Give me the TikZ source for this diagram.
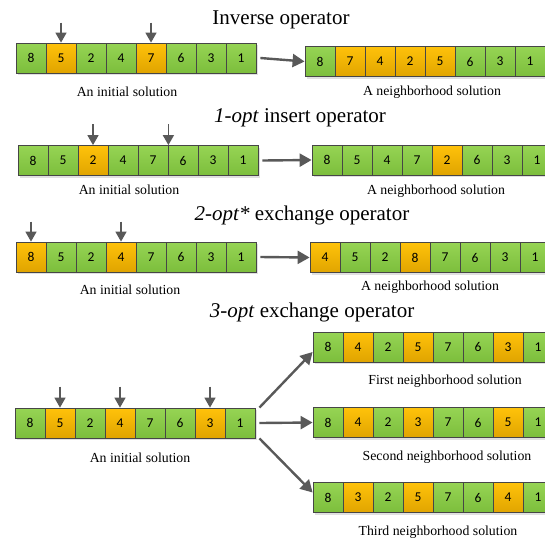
\documentclass[tikz,border=0pt]{standalone}
\usepackage{fontspec}
\setmainfont{Liberation Serif}
\newfontfamily\cellfont{Carlito}
\usetikzlibrary{arrows.meta,shadows}
\definecolor{cgreen}{RGB}{150,212,84}
\definecolor{cgreendk}{RGB}{124,190,60}
\definecolor{corange}{RGB}{255,194,10}
\definecolor{corangedk}{RGB}{224,164,0}
\definecolor{cedge}{RGB}{70,70,70}
\definecolor{carrow}{RGB}{89,89,89}
\tikzset{
    cell/.style={draw=cedge, line width=0.8pt, minimum width=30pt, minimum height=30pt,
        inner sep=0pt, font=\cellfont\fontsize{13.5}{14}\selectfont,
        drop shadow={shadow xshift=2pt, shadow yshift=-2pt, fill=black!20, opacity=0.6}},
    gcell/.style={cell, top color=cgreen, bottom color=cgreendk},
    ocell/.style={cell, top color=corange, bottom color=corangedk},
    caption/.style={font=\fontsize{13.8}{15}\selectfont},
    heading/.style={font=\fontsize{21}{23}\selectfont},
    pick/.style={-{Triangle[length=10pt,width=11pt]}, line width=1.5pt, carrow},
    move/.style={-{Triangle[length=12pt,width=13pt]}, line width=2.4pt, carrow}
}
\begin{document}
\begin{tikzpicture}[x=1pt,y=-1pt]
    \useasboundingbox (0,0) rectangle (545,539);
    % inverse operator
    \node[heading] (t1) at (281,20) {Inverse operator};
    \foreach \v/\s [count=\i] in {8/gcell,5/ocell,2/gcell,4/gcell,7/ocell,6/gcell,3/gcell,1/gcell}{
        \node[\s] (ia\i) at ({16+30*\i-15},58) {\v};
        };
    \foreach \v/\s [count=\i] in {8/gcell,7/ocell,4/ocell,2/ocell,5/ocell,6/gcell,3/gcell,1/gcell}{
        \node[\s] (na\i) at ({305+30*\i-15},61.5) {\v};
        };
    \draw[pick] ([yshift=20pt]ia2.north) -- (ia2.north);
    \draw[pick] ([yshift=20pt]ia5.north) -- (ia5.north);
    \draw[move] ([xshift=4pt]ia8.east) -- (na1.west);
    \node[caption] (ca1) at (127,92) {An initial solution};
    \node[caption] (cn1) at (432,92) {A neighborhood solution};

    % 1-opt insert operator
    \node[heading] (t2) at (300,118) {\textit{1-opt} insert operator};
    \foreach \v/\s [count=\i] in {8/gcell,5/gcell,2/ocell,4/gcell,7/gcell,6/gcell,3/gcell,1/gcell}{
        \node[\s] (ib\i) at ({18+30*\i-15},160.5) {\v};
        };
    \foreach \v/\s [count=\i] in {8/gcell,5/gcell,4/gcell,7/gcell,2/ocell,6/gcell,3/gcell,1/gcell}{
        \node[\s] (nb\i) at ({312+30*\i-15},160) {\v};
        };
    \draw[pick] ([yshift=21pt]ib3.north) -- (ib3.north);
    \draw[pick] ([yshift=21pt]ib5.north east) -- (ib5.north east);
    \draw[move] ([xshift=4pt]ib8.east) -- (nb1.west);
    \node[caption] (cb1) at (129,190) {An initial solution};
    \node[caption] (cn2) at (436,191) {A neighborhood solution};

    % 2-opt* exchange operator
    \node[heading] (t3) at (302,215) {\textit{2-opt*} exchange operator};
    \foreach \v/\s [count=\i] in {8/ocell,5/gcell,2/gcell,4/ocell,7/gcell,6/gcell,3/gcell,1/gcell}{
        \node[\s] (ic\i) at ({16+30*\i-15},257) {\v};
        };
    \foreach \v/\s [count=\i] in {4/ocell,5/gcell,2/gcell,8/ocell,7/gcell,6/gcell,3/gcell,1/gcell}{
        \node[\s] (nc\i) at ({310+30*\i-15},257.5) {\v};
        };
    \draw[pick] ([yshift=20pt]ic1.north) -- (ic1.north);
    \draw[pick] ([yshift=20pt]ic4.north) -- (ic4.north);
    \draw[move] ([xshift=4pt]ic8.east) -- (nc1.west);
    \node[caption] (cc1) at (130,290) {An initial solution};
    \node[caption] (cn3) at (430,287) {A neighborhood solution};

    % 3-opt exchange operator
    \node[heading] (t4) at (312,312) {\textit{3-opt} exchange operator};
    \foreach \v/\s [count=\i] in {8/gcell,5/ocell,2/gcell,4/ocell,7/gcell,6/gcell,3/ocell,1/gcell}{
        \node[\s] (id\i) at ({15+30*\i-15},423) {\v};
        };
    \foreach \v/\s [count=\i] in {8/gcell,4/ocell,2/gcell,5/ocell,7/gcell,6/gcell,3/ocell,1/gcell}{
        \node[\s] (nd\i) at ({313+30*\i-15},347) {\v};
        };
    \foreach \v/\s [count=\i] in {8/gcell,4/ocell,2/gcell,3/ocell,7/gcell,6/gcell,5/ocell,1/gcell}{
        \node[\s] (ne\i) at ({313+30*\i-15},422.5) {\v};
        };
    \foreach \v/\s [count=\i] in {8/gcell,3/ocell,2/gcell,5/ocell,7/gcell,6/gcell,4/ocell,1/gcell}{
        \node[\s] (nf\i) at ({313+30*\i-15},497.5) {\v};
        };
    \draw[pick] ([yshift=21pt]id2.north) -- (id2.north);
    \draw[pick] ([yshift=21pt]id4.north) -- (id4.north);
    \draw[pick] ([yshift=21pt]id7.north) -- (id7.north);
    \draw[move] ([xshift=4pt]id8.north east) -- ([yshift=-5pt]nd1.west);
    \draw[move] ([xshift=4pt]id8.east) -- (ne1.west);
    \draw[move] ([xshift=4pt]id8.south east) -- ([yshift=5pt]nf1.west);
    \node[caption] (cd1) at (140,458) {An initial solution};
    \node[caption] (cn4) at (445,381) {First neighborhood solution};
    \node[caption] (cn5) at (447,457) {Second neighborhood solution};
    \node[caption] (cn6) at (438,532) {Third neighborhood solution};
\end{tikzpicture}
\end{document}
